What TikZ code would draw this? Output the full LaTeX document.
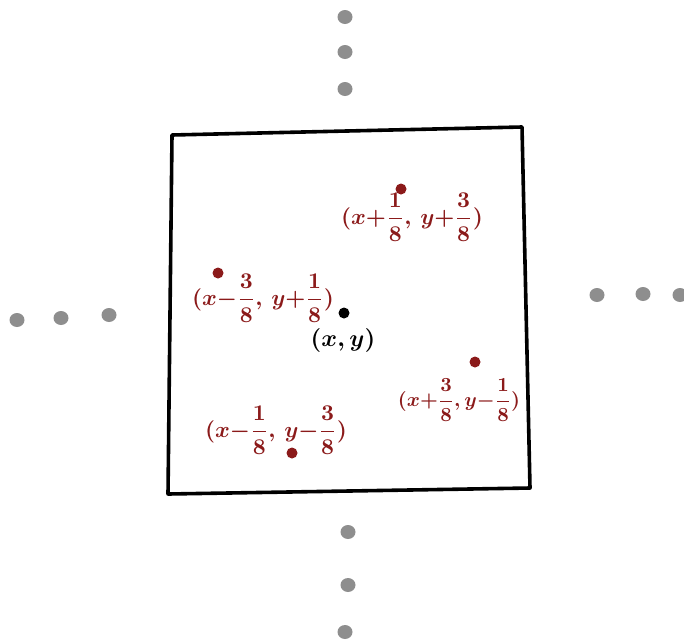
\documentclass[tikz,border=0pt]{standalone}
\usepackage{amsmath}
\definecolor{dred}{HTML}{8B1A1A}
\definecolor{dgray}{HTML}{8E8E8E}
\newcommand{\biglab}[2]{\scalebox{#1}{\boldmath$\displaystyle #2$}}
\begin{document}
\begin{tikzpicture}[x=1pt,y=-1pt,
  rdot/.style={circle,fill=dred,inner sep=0pt,minimum size=11pt},
  bdot/.style={circle,fill=black,inner sep=0pt,minimum size=11pt},
  rlab/.style={text=dred,inner sep=0pt},
  blab/.style={text=black,inner sep=0pt}]
\useasboundingbox (0,0) rectangle (684,643);
% square
\coordinate (tl) at (172,135);
\coordinate (tr) at (522,127);
\coordinate (br) at (530,488);
\coordinate (bl) at (168,494);
\draw[line width=3.6pt,line join=round] (tl) -- (tr) -- (br) -- (bl) -- cycle;
% gray dots
\foreach \x/\y in {345/17,345/52,345/89,17/320,61/318,109/315,597/295,643/294,680/295,348/532,348/585,345/632}{
  \fill[dgray] (\x,\y) ellipse (7.5pt and 7pt);
}
% sample points
\node[rdot] (p1) at (401,189) {};
\node[rdot] (p2) at (218,273) {};
\node[rdot] (p3) at (475,362) {};
\node[rdot] (p4) at (292,453) {};
\node[bdot] (c) at (344,313) {};
% labels
\node[rlab] (l1) at (412,217) {\biglab{2.25}{(x{+}\frac{1}{8},\,y{+}\frac{3}{8})}};
\node[rlab] (l2) at (263,298) {\biglab{2.25}{(x{-}\frac{3}{8},\,y{+}\frac{1}{8})}};
\node[blab] (lc) at (343,340) {\biglab{2.4}{(x,y)}};
\node[rlab] (l3) at (459,400) {\biglab{2.0}{(x{+}\frac{3}{8},y{-}\frac{1}{8})}};
\node[rlab] (l4) at (276,430) {\biglab{2.25}{(x{-}\frac{1}{8},\,y{-}\frac{3}{8})}};
\end{tikzpicture}
\end{document}
